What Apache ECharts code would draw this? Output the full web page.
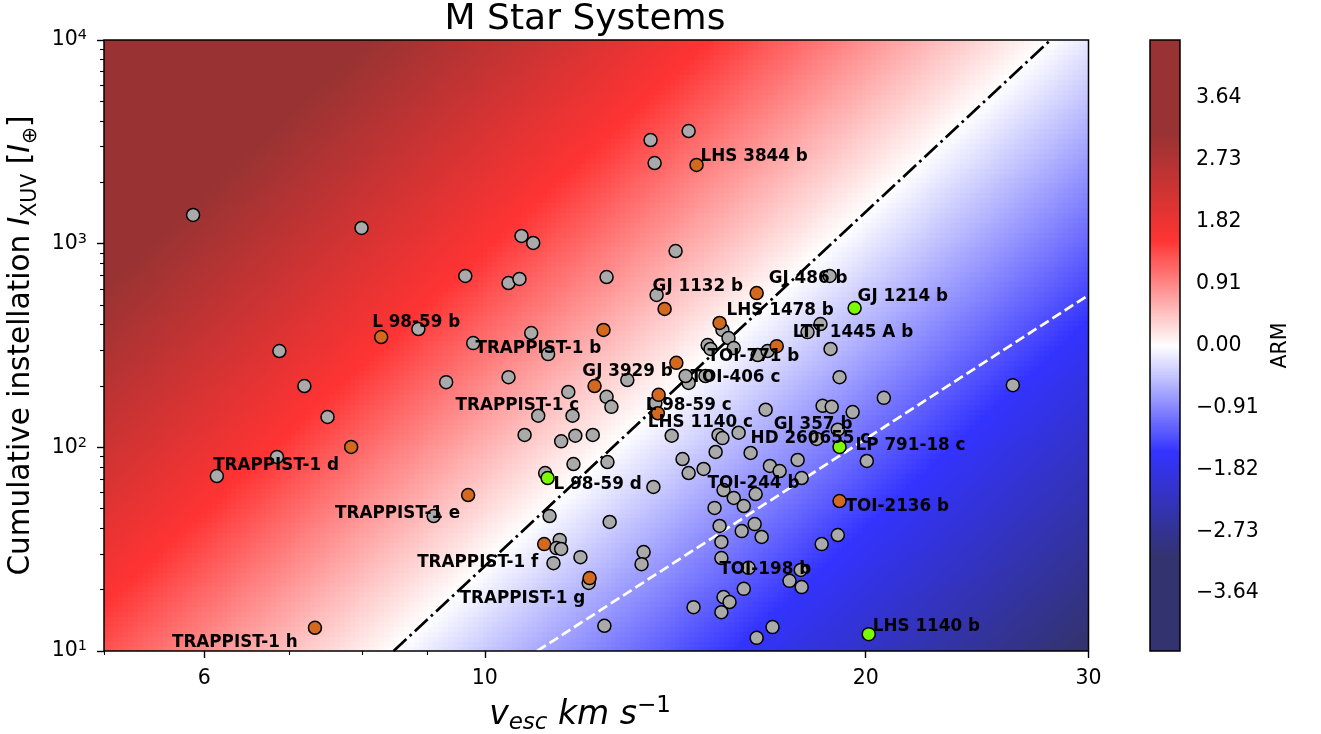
<!DOCTYPE html>
<html>
<head>
<meta charset="utf-8">
<title>M Star Systems</title>
<script src="https://cdn.jsdelivr.net/npm/echarts@6/dist/echarts.min.js"></script>
<style>
  html, body { margin: 0; padding: 0; background: #ffffff; }
  #chart { width: 1321px; height: 734px; }
</style>
</head>
<body>
<div id="chart"></div>
<script>
// ---------------------------------------------------------------------------
// Data: escape velocity v_esc (km/s) and cumulative XUV instellation (I_earth)
// ---------------------------------------------------------------------------

// Planets without a name tag: [v_esc, I_XUV]
const otherPlanets = [
  [5.88, 1383], [7.99, 1194], [6.88, 297], [7.20, 200], [7.51, 141], [6.85, 89.7], [6.14, 72.3],
  [8.86, 381], [9.32, 209], [9.65, 694], [9.79, 325], [10.44, 641], [10.65, 671], [10.69, 1091],
  [10.92, 1008], [10.88, 364], [10.44, 221], [11.22, 287], [11.64, 187], [11.02, 143], [11.73, 143],
  [10.75, 115], [11.49, 107], [11.79, 114], [12.17, 115], [9.11, 46.0], [12.48, 686], [14.15, 920],
  [13.52, 3228], [14.49, 3574], [13.62, 2489], [13.67, 560], [12.96, 214], [12.48, 177], [12.59, 158],
  [13.64, 165], [14.49, 207], [14.94, 224], [15.00, 318], [15.41, 377], [15.58, 344], [15.73, 307],
  [16.43, 284], [16.73, 297], [17.99, 368], [18.42, 403], [18.76, 304], [18.73, 694], [19.07, 221],
  [26.14, 202], [20.67, 175], [18.49, 160], [18.80, 158], [19.53, 149], [19.01, 122], [18.29, 110],
  [20.04, 85.7], [17.67, 86.7], [16.80, 81.0], [17.10, 76.5], [17.80, 70.7], [16.37, 59.0], [16.55, 36.3],
  [19.01, 37.1], [18.46, 33.5], [16.22, 93.8], [15.30, 115], [15.41, 111], [15.22, 94.9], [14.05, 114],
  [14.33, 87.6], [14.49, 74.8], [13.59, 63.9], [15.44, 61.7], [15.73, 56.4], [16.02, 51.5], [15.19, 50.4],
  [12.55, 43.0], [15.33, 41.1], [15.96, 38.8], [16.34, 42.0], [15.38, 34.3], [13.35, 30.6], [13.30, 26.7],
  [11.90, 28.9], [16.16, 25.6], [17.77, 25.0], [17.41, 22.1], [17.80, 20.6], [16.02, 20.2], [15.44, 18.4],
  [15.61, 17.4], [14.62, 16.4], [15.38, 15.5], [12.43, 13.3], [16.88, 13.1], [16.40, 11.6], [11.46, 35.1],
  [11.39, 32.0], [11.49, 31.7], [11.33, 27.0], [11.16, 74.8], [11.25, 46.0], [11.75, 82.8], [12.50, 84.7],
  [12.08, 21.6]
];

// Named planets
const namedPlanets = [
  'LHS 3844 b', 'GJ 1132 b', 'GJ 486 b', 'GJ 1214 b', 'LHS 1478 b', 'LTT 1445 A b',
  'TRAPPIST-1 b', 'TOI-771 b', 'GJ 3929 b', 'TOI-406 c', 'L 98-59 b', 'TRAPPIST-1 c',
  'L 98-59 c', 'LHS 1140 c', 'GJ 357 b', 'HD 260655 c', 'LP 791-18 c', 'TRAPPIST-1 d',
  'L 98-59 d', 'TOI-244 b', 'TRAPPIST-1 e', 'TOI-2136 b', 'TRAPPIST-1 f', 'TOI-198 b',
  'TRAPPIST-1 g', 'TRAPPIST-1 h', 'LHS 1140 b'
];
const namedV = [
  14.70, 13.87, 16.40, 19.60, 15.33, 17.01,
  12.41, 15.08, 14.17, 14.41, 8.28, 12.21,
  13.72, 13.70, 16.67, 15.87, 19.07, 7.84,
  11.21, 14.89, 9.70, 19.07, 11.14, 15.38,
  12.10, 7.34, 20.11
];
const namedI = [
  2434, 478, 572, 483, 408, 314,
  377, 304, 260, 224, 348, 200,
  181, 147, 153, 118, 100.4, 100.4,
  70.7, 78.3, 58.3, 54.5, 33.5, 28.6,
  22.8, 13.0, 12.1
];
// sample membership of each named planet
const namedGroup = [
  'rocky', 'rocky', 'rocky', 'volatile', 'rocky', 'rocky',
  'rocky', 'other', 'rocky', 'other', 'rocky', 'rocky',
  'rocky', 'rocky', 'other', 'other', 'volatile', 'rocky',
  'volatile', 'other', 'rocky', 'rocky', 'rocky', 'other',
  'rocky', 'rocky', 'volatile'
];

// ARM = 0 boundary (dash-dot) and the I ~ v^4 shoreline (dashed), endpoints in data units
const armZeroV = [8.47, 28.0];
const armZeroI = [10, 10000];
const shoreV = [11.0, 30];
const shoreI = [10, 559];

// Tick values
const xMajorTicks = [6, 10, 20, 30];
const xMinorTicks = [5, 7, 8, 9];
const yMajorTicks = [10, 100, 1000, 10000];
const yMinorTicks = [20, 30, 40, 50, 60, 70, 80, 90, 200, 300, 400, 500, 600, 700, 800, 900,
                     2000, 3000, 4000, 5000, 6000, 7000, 8000, 9000];
const cbarTicks = [-3.64, -2.73, -1.82, -0.91, 0, 0.91, 1.82, 2.73, 3.64];

// ---------------------------------------------------------------------------
// Layout (pixels) and label placement
// ---------------------------------------------------------------------------
const PLOT = { left: 104, top: 40, width: 984.5, height: 611 };
const CBAR = { left: 1150, top: 40, width: 30, height: 611 };
const FIG_CENTER_X = 580;
const X_RANGE = [5, 30];
const Y_RANGE = [10, 10000];
const ARM_RANGE = [-4.49, 4.49];
const MARKER = 13;
const LABEL_DROP = 2;

// label anchor (left edge, vertical middle) relative to the marker centre
const labelOffsets = {
  'LHS 3844 b': [4, -10], 'GJ 1132 b': [-12, -24], 'GJ 486 b': [12, -16], 'GJ 1214 b': [3, -13],
  'LHS 1478 b': [7, -14], 'LTT 1445 A b': [16, -15], 'TRAPPIST-1 b': [-128, 17], 'TOI-771 b': [-3, 6],
  'GJ 3929 b': [-94, 7], 'TOI-406 c': [5, 0], 'L 98-59 b': [-9, -16], 'TRAPPIST-1 c': [-139, 18],
  'L 98-59 c': [-13, 9], 'LHS 1140 c': [-10, 7], 'GJ 357 b': [8, 13], 'HD 260655 c': [12, 4],
  'LP 791-18 c': [16, -3], 'TRAPPIST-1 d': [-138, 17], 'L 98-59 d': [6, 5], 'TOI-244 b': [4, 13],
  'TRAPPIST-1 e': [-133, 17], 'TOI-2136 b': [6, 4], 'TRAPPIST-1 f': [-127, 17], 'TOI-198 b': [-2, 10],
  'TRAPPIST-1 g': [-130, 19], 'TRAPPIST-1 h': [-143, 13], 'LHS 1140 b': [4, -9]
};

const groupColor = { other: '#aaaaaa', rocky: '#d2691e', volatile: '#7cfc00' };

// ---------------------------------------------------------------------------
// ARM field: log-offset of I_XUV from the ARM = 0 line in the log v – log I plane
// ---------------------------------------------------------------------------
const LV0 = Math.log10(armZeroV[0]), LV1 = Math.log10(armZeroV[1]);
const LI0 = Math.log10(armZeroI[0]), LI1 = Math.log10(armZeroI[1]);
const armSlope = (LI1 - LI0) / (LV1 - LV0);
function armAt(logV, logI) { return logI - (LI0 + armSlope * (logV - LV0)); }

// diverging map (seismic, 80 % opacity over white), saturating at +-3.1
const SEISMIC = [[0, 0, 0.3], [0, 0, 1], [1, 1, 1], [1, 0, 0], [0.5, 0, 0]];
const ARM_SAT = 3.1, ALPHA = 0.8;
function armColor(a) {
  let t = (a + ARM_SAT) / (2 * ARM_SAT);
  t = Math.max(0, Math.min(1, t));
  const p = t * 4;
  const i = Math.min(3, Math.floor(p));
  const f = p - i;
  const rgb = [0, 1, 2].map(k => {
    const c = SEISMIC[i][k] + (SEISMIC[i + 1][k] - SEISMIC[i][k]) * f;
    return Math.round(255 * (ALPHA * c + 1 - ALPHA));
  });
  return 'rgb(' + rgb.join(',') + ')';
}

// background cells on a regular log grid
const NX = 200, NY = 124;
const lx0 = Math.log10(X_RANGE[0]), lx1 = Math.log10(X_RANGE[1]);
const ly0 = Math.log10(Y_RANGE[0]), ly1 = Math.log10(Y_RANGE[1]);
const fieldCells = [];
for (let i = 0; i < NX; i++) {
  const a = lx0 + (lx1 - lx0) * i / NX, b = lx0 + (lx1 - lx0) * (i + 1) / NX;
  for (let j = 0; j < NY; j++) {
    const c = ly0 + (ly1 - ly0) * j / NY, d = ly0 + (ly1 - ly0) * (j + 1) / NY;
    fieldCells.push([Math.pow(10, a), Math.pow(10, b), Math.pow(10, c), Math.pow(10, d),
                     armAt((a + b) / 2, (c + d) / 2)]);
  }
}

// colour-bar strips
const NC = 300;
const cbarCells = [];
for (let k = 0; k < NC; k++) {
  const lo = ARM_RANGE[0] + (ARM_RANGE[1] - ARM_RANGE[0]) * k / NC;
  const hi = ARM_RANGE[0] + (ARM_RANGE[1] - ARM_RANGE[0]) * (k + 1) / NC;
  cbarCells.push([0, 1, lo, hi, (lo + hi) / 2]);
}

function cellRenderer(params, api) {
  const p0 = api.coord([api.value(0), api.value(2)]);
  const p1 = api.coord([api.value(1), api.value(3)]);
  const x = Math.floor(Math.min(p0[0], p1[0]));
  const y = Math.floor(Math.min(p0[1], p1[1]));
  const w = Math.ceil(Math.max(p0[0], p1[0])) - x;
  const h = Math.ceil(Math.max(p0[1], p1[1])) - y;
  return {
    type: 'rect',
    shape: { x: x, y: y, width: w, height: h },
    style: { fill: armColor(api.value(4)) }
  };
}

// ---------------------------------------------------------------------------
// Series data
// ---------------------------------------------------------------------------
function groupPoints(group) {
  const pts = [];
  namedPlanets.forEach((n, k) => {
    if (namedGroup[k] === group) pts.push({ name: n, value: [namedV[k], namedI[k]] });
  });
  return pts;
}
const greyPoints = otherPlanets.map(p => ({ value: p })).concat(groupPoints('other'));
const labelPoints = namedPlanets.map((n, k) => ({
  name: n,
  value: [namedV[k], namedI[k]],
  label: { position: [MARKER / 2 + labelOffsets[n][0], MARKER / 2 + labelOffsets[n][1] + LABEL_DROP] }
}));

const FONT = 'DejaVu Sans';
const TICK_FS = 20.5;
const markerStyle = (color) => ({ color: color, borderColor: '#000000', borderWidth: 1.5, opacity: 1 });

const option = {
  animation: false,
  backgroundColor: '#ffffff',
  textStyle: { fontFamily: FONT, color: '#000000' },
  title: {
    text: 'M Star Systems',
    left: FIG_CENTER_X,
    textAlign: 'center',
    top: -3,
    textStyle: { fontFamily: FONT, fontWeight: 'normal', fontSize: 36, color: '#000000' }
  },
  grid: [
    { left: PLOT.left, top: PLOT.top, width: PLOT.width, height: PLOT.height, show: true, z: 10,
      outerBoundsMode: 'none', containLabel: false,
      backgroundColor: 'transparent', borderColor: '#000000', borderWidth: 1.5 },
    { left: CBAR.left, top: CBAR.top, width: CBAR.width, height: CBAR.height, show: true, z: 10,
      outerBoundsMode: 'none', containLabel: false,
      backgroundColor: 'transparent', borderColor: '#000000', borderWidth: 1.5 }
  ],
  xAxis: [
    {
      gridIndex: 0, type: 'log', logBase: 10, min: X_RANGE[0], max: X_RANGE[1], position: 'bottom',
      axisLine: { show: false }, splitLine: { show: false },
      axisTick: { show: true, customValues: xMajorTicks, length: 7, lineStyle: { color: '#000', width: 1.4 } },
      axisLabel: { show: true, customValues: xMajorTicks, margin: 17, fontSize: TICK_FS, color: '#000',
                   fontFamily: FONT, formatter: v => String(Math.round(v)) },
      name: '{i|v}{sub|esc}{i| km s}{sup|\u22121}',
      nameLocation: 'middle', nameGap: 44,
      nameTextStyle: {
        padding: [0, 2 * (PLOT.left + PLOT.width / 2 - FIG_CENTER_X), 0, 0],
        rich: {
          i: { fontFamily: FONT, fontStyle: 'italic', fontSize: 33, lineHeight: 40, color: '#000' },
          sub: { fontFamily: FONT, fontStyle: 'italic', fontSize: 23, lineHeight: 24, verticalAlign: 'bottom', color: '#000' },
          sup: { fontFamily: FONT, fontSize: 23, lineHeight: 22, verticalAlign: 'top', color: '#000' }
        }
      }
    },
    {
      gridIndex: 0, type: 'log', logBase: 10, min: X_RANGE[0], max: X_RANGE[1], position: 'bottom',
      axisLine: { show: false }, splitLine: { show: false }, axisLabel: { show: false },
      axisTick: { show: true, customValues: xMinorTicks, length: 4, lineStyle: { color: '#000', width: 1.1 } }
    },
    { gridIndex: 1, type: 'value', min: 0, max: 1, show: false }
  ],
  yAxis: [
    {
      gridIndex: 0, type: 'log', logBase: 10, min: Y_RANGE[0], max: Y_RANGE[1], position: 'left',
      axisLine: { show: false }, splitLine: { show: false },
      axisTick: { show: true, customValues: yMajorTicks, length: 7, lineStyle: { color: '#000', width: 1.4 } },
      axisLabel: {
        show: true, customValues: yMajorTicks, margin: 17,
        formatter: v => '{b|10}{s|' + Math.round(Math.log10(v)) + '}',
        rich: {
          b: { fontFamily: FONT, fontSize: TICK_FS, lineHeight: 24, color: '#000' },
          s: { fontFamily: FONT, fontSize: 14.5, lineHeight: 11, verticalAlign: 'top', color: '#000' }
        }
      },
      name: '{n|Cumulative instellation }{i|I}{sub|XUV}{n| [}{i|I}{sub|\u2295}{n|]}',
      nameLocation: 'middle', nameGap: 59, nameRotate: 90,
      nameTextStyle: {
        rich: {
          n: { fontFamily: FONT, fontSize: 29.5, lineHeight: 38, color: '#000' },
          i: { fontFamily: FONT, fontStyle: 'italic', fontSize: 29.5, lineHeight: 38, color: '#000' },
          sub: { fontFamily: FONT, fontSize: 20.5, lineHeight: 22, verticalAlign: 'bottom', color: '#000' }
        }
      }
    },
    {
      gridIndex: 0, type: 'log', logBase: 10, min: Y_RANGE[0], max: Y_RANGE[1], position: 'left',
      axisLine: { show: false }, splitLine: { show: false }, axisLabel: { show: false },
      axisTick: { show: true, customValues: yMinorTicks, length: 4, lineStyle: { color: '#000', width: 1.1 } }
    },
    {
      gridIndex: 1, type: 'value', min: ARM_RANGE[0], max: ARM_RANGE[1], position: 'right',
      axisLine: { show: false }, splitLine: { show: false },
      axisTick: { show: true, customValues: cbarTicks, length: 6, lineStyle: { color: '#000', width: 1.4 } },
      axisLabel: {
        show: true, customValues: cbarTicks, margin: 16, fontSize: TICK_FS, color: '#000', fontFamily: FONT,
        formatter: v => (v < 0 ? '\u2212' : '') + Math.abs(v).toFixed(2)
      },
      name: 'ARM', nameLocation: 'middle', nameRotate: 90, nameGap: 90,
      nameTextStyle: { fontFamily: FONT, fontSize: TICK_FS, color: '#000' }
    }
  ],
  series: [
    {
      name: 'ARM field', type: 'custom', xAxisIndex: 0, yAxisIndex: 0, silent: true, clip: true,
      progressive: 0, progressiveThreshold: 1e9,
      renderItem: cellRenderer, encode: { x: [0, 1], y: [2, 3] }, data: fieldCells, z: 1
    },
    {
      name: 'ARM = 0', type: 'line', xAxisIndex: 0, yAxisIndex: 0, silent: true, symbol: 'none',
      data: armZeroV.map((v, k) => [v, armZeroI[k]]),
      lineStyle: { color: '#000000', width: 2.7, type: [17.5, 4.4, 2.7, 4.4] }, z: 2
    },
    {
      name: 'shoreline', type: 'line', xAxisIndex: 0, yAxisIndex: 0, silent: true, symbol: 'none',
      data: shoreV.map((v, k) => [v, shoreI[k]]),
      lineStyle: { color: '#ffffff', width: 2.7, type: [10.2, 4.4] }, z: 2
    },
    {
      name: 'other', type: 'scatter', xAxisIndex: 0, yAxisIndex: 0, silent: true,
      symbol: 'circle', symbolSize: MARKER, itemStyle: markerStyle(groupColor.other), data: greyPoints, z: 3
    },
    {
      name: 'rocky', type: 'scatter', xAxisIndex: 0, yAxisIndex: 0, silent: true,
      symbol: 'circle', symbolSize: MARKER, itemStyle: markerStyle(groupColor.rocky), data: groupPoints('rocky'), z: 4
    },
    {
      name: 'volatile', type: 'scatter', xAxisIndex: 0, yAxisIndex: 0, silent: true,
      symbol: 'circle', symbolSize: MARKER, itemStyle: markerStyle(groupColor.volatile), data: groupPoints('volatile'), z: 5
    },
    {
      name: 'names', type: 'scatter', xAxisIndex: 0, yAxisIndex: 0, silent: true,
      symbol: 'circle', symbolSize: MARKER, itemStyle: { color: 'rgba(255,255,255,0)', borderWidth: 0 },
      label: {
        show: true, align: 'left', verticalAlign: 'middle', textBorderWidth: 0, opacity: 1,
        formatter: p => p.name, fontFamily: FONT, fontWeight: 'bold', fontSize: 16.8, color: '#000000'
      },
      data: labelPoints, z: 6
    },
    {
      name: 'colour bar', type: 'custom', xAxisIndex: 2, yAxisIndex: 2, silent: true,
      progressive: 0, progressiveThreshold: 1e9,
      renderItem: cellRenderer, encode: { x: [0, 1], y: [2, 3] }, data: cbarCells, z: 1
    }
  ]
};

const chart = echarts.init(document.getElementById('chart'), null, { renderer: 'canvas' });
chart.setOption(option);
</script>
</body>
</html>
